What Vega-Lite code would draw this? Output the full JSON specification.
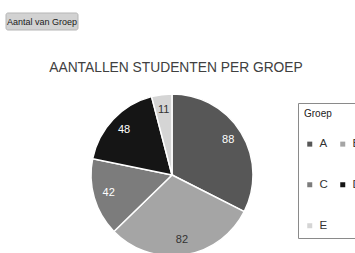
{
  "$schema": "https://vega.github.io/schema/vega-lite/v6.json",
  "padding": {"left": 5, "top": 12, "right": 0, "bottom": 0},
  "background": "white",
  "spacing": 30,
  "config": {"view": {"stroke": null}, "font": "Liberation Sans"},
  "vconcat": [
    {
      "width": 72,
      "height": 17,
      "data": {"values": [{"knop": "Aantal van Groep"}]},
      "layer": [
        {"mark": {"type": "rect", "fill": "#d2d2d2", "stroke": "#b5b5b5", "strokeWidth": 1, "cornerRadius": 2}, "encoding": {}},
        {"mark": {"type": "text", "fontSize": 9, "color": "#1a1a1a", "font": "Liberation Sans"}, "encoding": {"text": {"field": "knop"}}}
      ]
    },
    {
      "width": 332,
      "height": 160,
      "title": {"text": "AANTALLEN STUDENTEN PER GROEP", "fontSize": 13.8, "fontWeight": "normal", "color": "#404040", "offset": 16, "dx": 4, "font": "Liberation Sans"},
      "data": {"values": [
        {"Groep": "A", "Aantal": 88, "volgorde": 1},
        {"Groep": "B", "Aantal": 82, "volgorde": 2},
        {"Groep": "C", "Aantal": 42, "volgorde": 3},
        {"Groep": "D", "Aantal": 48, "volgorde": 4},
        {"Groep": "E", "Aantal": 11, "volgorde": 5}
      ]},
      "encoding": {
        "theta": {"field": "Aantal", "type": "quantitative", "stack": true},
        "order": {"field": "volgorde", "type": "quantitative"}
      },
      "layer": [
        {
          "mark": {"type": "arc", "outerRadius": 81, "stroke": "white", "strokeWidth": 1.5},
          "encoding": {
            "color": {
              "field": "Groep", "type": "nominal",
              "scale": {"domain": ["A", "B", "C", "D", "E"], "range": ["#575757", "#a5a5a5", "#7c7c7c", "#151515", "#d5d5d5"]},
              "legend": {
                "orient": "none", "legendX": 292, "legendY": 90, "direction": "horizontal",
                "title": "Groep", "titleFontSize": 10, "titleFontWeight": "normal", "titleColor": "#222",
                "titlePadding": 19, "columns": 2, "columnPadding": 9, "rowPadding": 28,
                "symbolType": "square", "symbolSize": 25, "symbolStrokeWidth": 0,
                "labelFontSize": 11.5, "labelColor": "#333", "labelOffset": 4,
                "fillColor": "white", "strokeColor": "#8a8a8a", "padding": 6
              }
            }
          }
        },
        {
          "mark": {"type": "text", "radius": 66, "fontSize": 11, "font": "Liberation Sans"},
          "encoding": {
            "text": {"field": "Aantal", "type": "quantitative"},
            "color": {"condition": {"test": "datum.Groep === 'B' || datum.Groep === 'E'", "value": "#333333"}, "value": "white"}
          }
        }
      ]
    }
  ]
}
